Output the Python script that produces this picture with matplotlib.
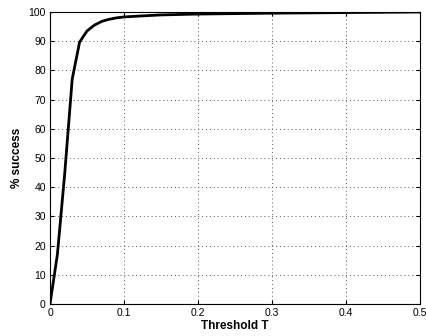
import matplotlib.pyplot as plt
import numpy as np

# datos
threshold = [0, 0.01, 0.02, 0.03, 0.04, 0.05, 0.06, 0.07, 0.08, 0.09, 0.1,
             0.12, 0.15, 0.2, 0.25, 0.3, 0.35, 0.4, 0.45, 0.5]
success = [0, 17, 45, 77, 89.7, 93.5, 95.5, 96.8, 97.5, 98.0, 98.3,
           98.6, 99.0, 99.3, 99.45, 99.6, 99.7, 99.8, 99.9, 100]

xticks = [0, 0.1, 0.2, 0.3, 0.4, 0.5]
xticklabels = ['0', '0.1', '0.2', '0.3', '0.4', '0.5']
yticks = list(range(0, 101, 10))

plt.rcParams['font.family'] = ['Liberation Sans', 'DejaVu Sans']

fig = plt.figure(figsize=(4.26, 3.36), dpi=100)
ax = fig.add_axes([50/426, 32/336, 370/426, 292/336])
ax.plot(threshold, success, color='black', linewidth=2)
ax.set_xlim(0, 0.5)
ax.set_ylim(0, 100)
ax.set_xticks(xticks)
ax.set_xticklabels(xticklabels)
ax.set_yticks(yticks)
ax.tick_params(direction='in', top=True, right=True, labelsize=7.5, length=3, pad=3)
ax.grid(True, linestyle=(0, (1, 3)), color='0.35', linewidth=0.7)
for s in ax.spines.values():
    s.set_linewidth(0.8)
ax.set_xlabel('Threshold T', fontsize=8.5, fontweight='bold', labelpad=1.5)
ax.set_ylabel('% success', fontsize=8.5, fontweight='bold', labelpad=4)
fig.savefig('out.png', dpi=100)
